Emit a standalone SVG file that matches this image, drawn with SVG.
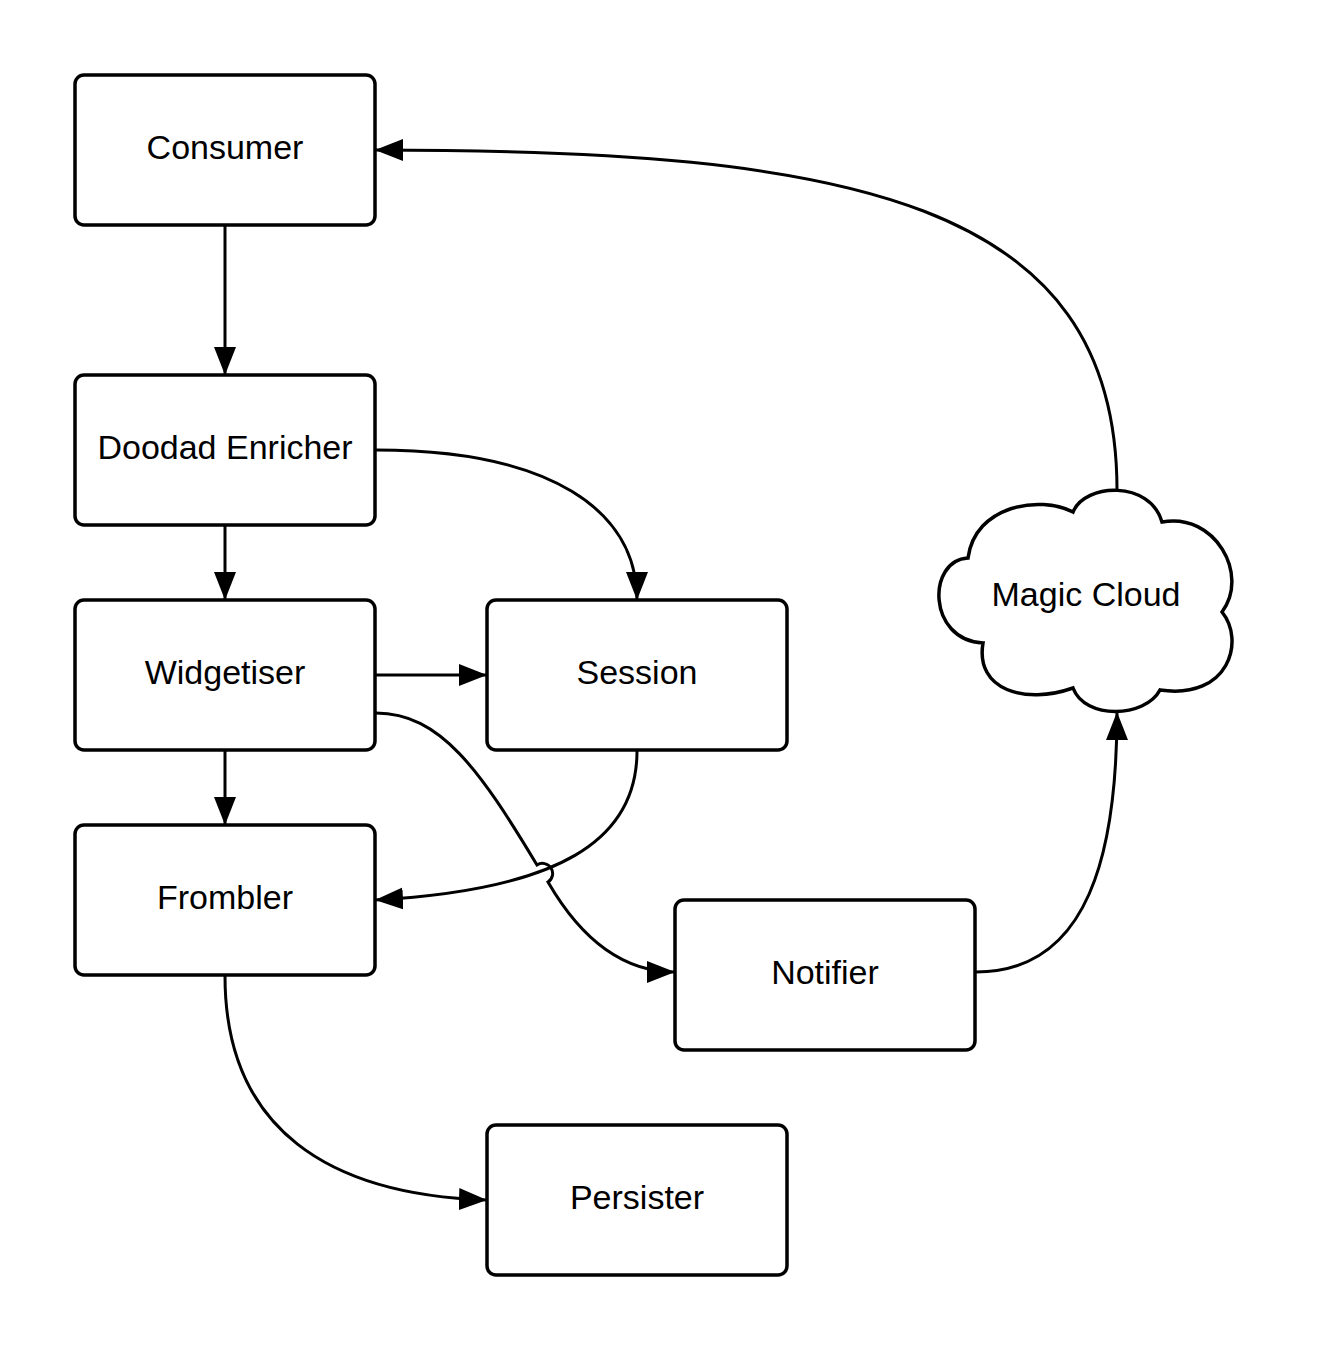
<svg xmlns="http://www.w3.org/2000/svg" width="1328" height="1350" viewBox="0 0 1328 1350">
<style>
.box{fill:#fff;stroke:#000;stroke-width:3.5}
.lbl{font-family:"Liberation Sans",Arial,sans-serif;font-size:34px;fill:#000;text-anchor:middle}
.c{fill:none;stroke:#000;stroke-width:3}
</style>
<defs>
<marker id="arr" markerUnits="userSpaceOnUse" markerWidth="30" markerHeight="24" refX="28" refY="11" orient="auto" viewBox="0 0 30 24">
<path d="M0,0 L28,11 L0,22 Z" fill="#000"/>
</marker>
</defs>
<rect width="1328" height="1350" fill="#fff"/>
<g id="consumer"><rect class="box" x="75" y="75" width="300" height="150" rx="9"/><text class="lbl" x="225" y="159">Consumer</text></g>
<g id="doodad-enricher"><rect class="box" x="75" y="375" width="300" height="150" rx="9"/><text class="lbl" x="225" y="459">Doodad Enricher</text></g>
<g id="widgetiser"><rect class="box" x="75" y="600" width="300" height="150" rx="9"/><text class="lbl" x="225" y="684">Widgetiser</text></g>
<g id="frombler"><rect class="box" x="75" y="825" width="300" height="150" rx="9"/><text class="lbl" x="225" y="909">Frombler</text></g>
<g id="session"><rect class="box" x="487" y="600" width="300" height="150" rx="9"/><text class="lbl" x="637" y="684">Session</text></g>
<g id="notifier"><rect class="box" x="675" y="900" width="300" height="150" rx="9"/><text class="lbl" x="825" y="984">Notifier</text></g>
<g id="persister"><rect class="box" x="487" y="1125" width="300" height="150" rx="9"/><text class="lbl" x="637" y="1209">Persister</text></g>
<g id="magic-cloud">
<path class="box" d="M1073,512 C1085,483 1150,480 1162,522 C1215,512 1250,575 1222,612 C1245,640 1230,700 1160,690 C1145,718 1085,720 1073,688 C1025,705 975,690 983,643 C927,640 927,560 968,558 C975,505 1040,495 1073,512 Z"/>
<text class="lbl" x="1086" y="606">Magic Cloud</text>
</g>
<g id="connectors">
<path class="c" d="M225,226 L225,375" marker-end="url(#arr)"/>
<path class="c" d="M225,526 L225,600" marker-end="url(#arr)"/>
<path class="c" d="M225,751 L225,825" marker-end="url(#arr)"/>
<path class="c" d="M376,675 L487,675" marker-end="url(#arr)"/>
<path class="c" d="M376,450 C550,450 637,510 637,600" marker-end="url(#arr)"/>
<path class="c" d="M637,751 C637,840 560,890 375,900" marker-end="url(#arr)"/>
<path class="c" d="M376,713 C440,713 480,770 537,865 A10,10 0 0 1 548,882 C570,920 610,972 675,972" marker-end="url(#arr)"/>
<path class="c" d="M976,972 C1090,972 1117,850 1117,712" marker-end="url(#arr)"/>
<path class="c" d="M1117,490 C1117,200 850,150 375,150" marker-end="url(#arr)"/>
<path class="c" d="M225,976 C225,1130 330,1195 487,1200" marker-end="url(#arr)"/>
</g>
</svg>
